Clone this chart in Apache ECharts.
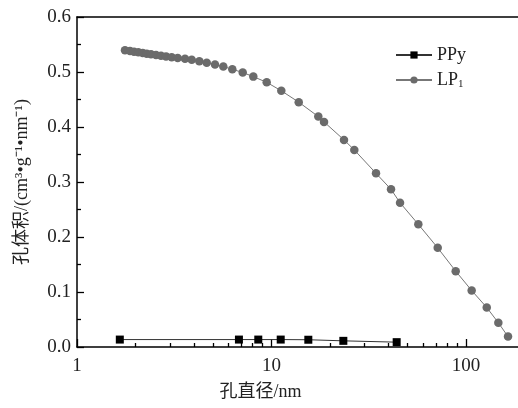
<!DOCTYPE html>
<html>
<head>
<meta charset="utf-8">
<script src="https://cdn.jsdelivr.net/npm/echarts@6/dist/echarts.min.js"></script>
<style>
html,body{margin:0;padding:0;background:#fff;}
#chart{width:518px;height:408px;}
</style>
</head>
<body>
<div id="chart"></div>
<script>
// ---- data ----
const ppyDiameter = [1.66, 6.8, 8.55, 11.15, 15.46, 23.4, 44.0];
const ppyVolume   = [0.0135, 0.0135, 0.0135, 0.0135, 0.0132, 0.0112, 0.0088];

const lpDiameter = [1.765, 1.873, 1.964, 2.067, 2.177, 2.283, 2.402, 2.548, 2.703, 2.869,
  3.068, 3.294, 3.592, 3.889, 4.255, 4.644, 5.123, 5.652, 6.288, 7.111,
  8.061, 9.448, 11.23, 13.80, 17.40, 18.62, 23.59, 26.65, 34.45, 41.15,
  45.79, 56.86, 71.52, 88.5, 106.9, 127.8, 146.6, 164.4];
const lpVolume = [0.5395, 0.5383, 0.5368, 0.5357, 0.5344, 0.5332, 0.5321, 0.5310, 0.5295, 0.5284,
  0.5268, 0.5253, 0.5240, 0.5222, 0.5195, 0.5168, 0.5135, 0.5100, 0.5049, 0.4991,
  0.4916, 0.4812, 0.4658, 0.4452, 0.4189, 0.4093, 0.3765, 0.3583, 0.3158, 0.2867,
  0.2623, 0.2230, 0.1803, 0.1379, 0.1027, 0.0718, 0.0441, 0.0189];

const xMajorTicks = [1, 10, 100];
const seriesNames = ['PPy', 'LP1'];
const xAxisName = '孔直径/nm';
const yAxisName = '孔体积/(cm³•g⁻¹•nm⁻¹)';

const serif = '"Liberation Serif", "Times New Roman", "Noto Sans CJK SC", serif';
const pair = (xs, ys) => xs.map((x, i) => [x, ys[i]]);

const chart = echarts.init(document.getElementById('chart'), null, {renderer: 'canvas'});
chart.setOption({
  animation: false,
  backgroundColor: '#fff',
  grid: {left: 77, top: 17, right: 0, bottom: 61, containLabel: false},
  legend: {
    orient: 'vertical', left: 390, top: 41,
    itemWidth: 36, itemHeight: 9, itemGap: 7,
    data: seriesNames,
    formatter: n => n === 'LP1' ? 'LP{s|1}' : n,
    textStyle: {
      fontFamily: serif, fontSize: 18, color: '#222', lineHeight: 18,
      rich: {s: {fontFamily: serif, fontSize: 11, color: '#222', padding: [8, 0, 0, 0]}}
    }
  },
  xAxis: [
    {
      type: 'log', logBase: 10, min: 1, max: 185, position: 'bottom',
      splitLine: {show: false},
      name: xAxisName, nameLocation: 'middle', nameGap: 36,
      nameTextStyle: {fontFamily: serif, fontSize: 18, color: '#222', padding: [0, 74, 0, 0]},
      axisLine: {show: true, lineStyle: {color: '#000', width: 1.5}},
      axisTick: {show: true, inside: true, length: 8, customValues: xMajorTicks, lineStyle: {color: '#000', width: 1.3}},
      minorTick: {show: true, splitNumber: 9, length: 4, lineStyle: {color: '#000', width: 1.3}},
      axisLabel: {show: true, customValues: xMajorTicks, fontFamily: serif, fontSize: 19, color: '#222', margin: 10}
    },
    {
      type: 'log', logBase: 10, min: 1, max: 185, position: 'top',
      splitLine: {show: false},
      axisLine: {show: true, lineStyle: {color: '#000', width: 1.5}},
      axisTick: {show: false},
      axisLabel: {show: false}
    }
  ],
  yAxis: {
    type: 'value', min: 0, max: 0.6, interval: 0.1,
    name: yAxisName, nameLocation: 'middle', nameGap: 46, nameRotate: 90,
    nameTextStyle: {fontFamily: serif, fontSize: 18, color: '#222'},
    axisLine: {show: true, lineStyle: {color: '#000', width: 1.5}},
    axisTick: {show: true, inside: true, length: 7, lineStyle: {color: '#000', width: 1.3}},
    minorTick: {show: true, splitNumber: 2, length: 4, lineStyle: {color: '#000', width: 1.3}},
    axisLabel: {fontFamily: serif, fontSize: 19, color: '#222', margin: 6, formatter: v => v.toFixed(1)},
    splitLine: {show: false}
  },
  series: [
    {
      name: 'PPy', type: 'line', xAxisIndex: 0,
      data: pair(ppyDiameter, ppyVolume),
      symbol: 'rect', symbolSize: 8,
      itemStyle: {color: '#000'},
      lineStyle: {color: '#333', width: 1}
    },
    {
      name: 'LP1', type: 'line', xAxisIndex: 0,
      data: pair(lpDiameter, lpVolume),
      symbol: 'circle', symbolSize: 8.5,
      itemStyle: {color: '#6b6b6b'},
      lineStyle: {color: '#777', width: 1}
    }
  ]
});
</script>
</body>
</html>
